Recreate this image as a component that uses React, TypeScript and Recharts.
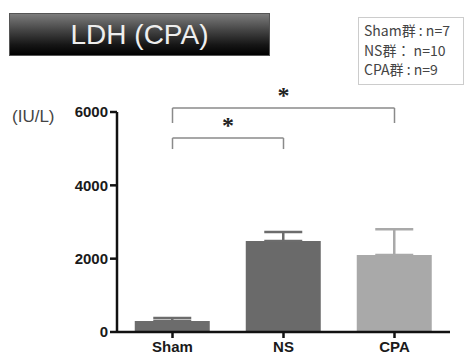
import { BarChart, Bar, Cell, XAxis, YAxis, ErrorBar, ReferenceLine } from "recharts";

const groups = ["Sham", "NS", "CPA"];
const means = [300, 2480, 2100];
const sems = [80, 250, 700];
const barColors = ["#6c6c6c", "#6a6a6a", "#a9a9a9"];
const yTicks = [0, 2000, 4000, 6000];
// significance brackets: top line value, foot value
const brackets = [
  { from: "Sham", to: "CPA", top: 6110, foot: 5700 },
  { from: "Sham", to: "NS", top: 5290, foot: 4990 },
];
const legendLines = ["Sham群 : n=7", "NS群： n=10", "CPA群 : n=9"];

const data = groups.map((g, i) => ({
  group: g,
  value: means[i],
  errDark: i < 2 ? [0, sems[i]] : null,
  errLight: i === 2 ? [0, sems[i]] : null,
}));

const tickStyle = { fontSize: 15, fontWeight: "bold", fill: "#1a1a1a", fontFamily: "Liberation Sans, Arial, sans-serif" };

const App = () => {
  return (
    <div style={{ position: "absolute", left: 0, top: 0, width: 464, height: 360, background: "#fff" }}>
      <div
        style={{
          position: "absolute", left: 9, top: 13, width: 261, height: 43,
          background: "linear-gradient(to bottom, #7c7c7c 0%, #444 40%, #161616 75%, #000 100%)",
          border: "1px solid #555", boxSizing: "border-box",
          color: "#eeeeee", fontFamily: "Liberation Sans, Arial, sans-serif", fontSize: 28,
          lineHeight: "41px", textAlign: "center",
        }}
      >
        LDH (CPA)
      </div>
      <div
        style={{
          position: "absolute", left: 358, top: 17, width: 106, height: 68,
          border: "1px solid #ccc", boxSizing: "border-box", padding: "3px 0 0 5px",
          fontFamily: "Noto Sans CJK JP, Noto Sans, sans-serif", fontSize: 14, lineHeight: "19.5px",
          color: "#444", whiteSpace: "pre", background: "#fff",
        }}
      >
        {legendLines.map((l) => <div key={l}>{l}</div>)}
      </div>
      <div
        style={{
          position: "absolute", left: 12, top: 107, fontFamily: "Liberation Sans, Arial, sans-serif",
          fontSize: 17, color: "#444",
        }}
      >
        (IU/L)
      </div>
      <BarChart
        width={464}
        height={360}
        data={data}
        margin={{ top: 112, right: 14, bottom: 0, left: 57 }}
        barCategoryGap="16%"
        style={{ position: "absolute", left: 0, top: 0 }}
      >
        <XAxis
          dataKey="group"
          height={28}
          tickSize={6}
          tickMargin={3}
          tick={tickStyle}
          axisLine={{ stroke: "#111", strokeWidth: 2.5 }}
          tickLine={{ stroke: "#111", strokeWidth: 2.5 }}
        />
        <YAxis
          width={60}
          domain={[0, 6000]}
          ticks={yTicks}
          tickSize={7}
          tickMargin={2}
          tick={tickStyle}
          axisLine={{ stroke: "#111", strokeWidth: 2.5 }}
          tickLine={{ stroke: "#111", strokeWidth: 2.5 }}
        />
        <Bar dataKey="value" isAnimationActive={false}>
          {data.map((d, i) => (
            <Cell key={d.group} fill={barColors[i]} />
          ))}
          <ErrorBar dataKey="errDark" direction="y" width={19} stroke="#6c6c6c" strokeWidth={2.5} isAnimationActive={false} />
          <ErrorBar dataKey="errLight" direction="y" width={19} stroke="#a9a9a9" strokeWidth={2.5} isAnimationActive={false} />
        </Bar>
        {brackets.map((b) => [
          <ReferenceLine
            key={b.to + "h"}
            segment={[{ x: b.from, y: b.top }, { x: b.to, y: b.top }]}
            stroke="#8a8a8a"
            strokeWidth={1.5}
            ifOverflow="visible"
            label={{ value: "*", position: "top", offset: 5, fontSize: 24, fontWeight: "bold", fill: "#222" }}
          />,
          <ReferenceLine
            key={b.to + "l"}
            segment={[{ x: b.from, y: b.top }, { x: b.from, y: b.foot }]}
            stroke="#8a8a8a"
            strokeWidth={1.5}
            ifOverflow="visible"
          />,
          <ReferenceLine
            key={b.to + "r"}
            segment={[{ x: b.to, y: b.top }, { x: b.to, y: b.foot }]}
            stroke="#8a8a8a"
            strokeWidth={1.5}
            ifOverflow="visible"
          />,
        ])}
      </BarChart>
    </div>
  );
};

export default App;
